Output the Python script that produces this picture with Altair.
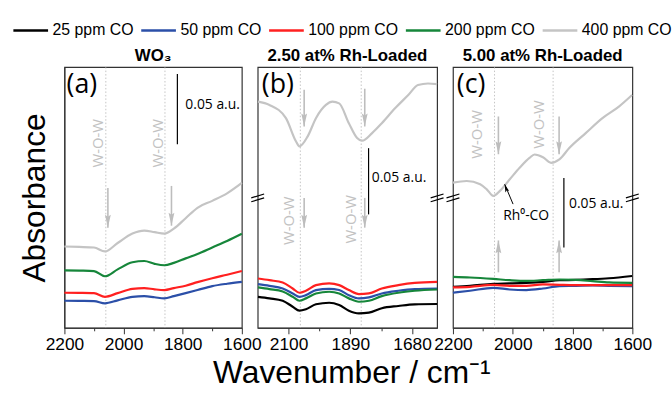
import altair as alt
import pandas as pd

CONC = ["25 ppm CO", "50 ppm CO", "100 ppm CO", "200 ppm CO", "400 ppm CO"]
COLORS = ["#000000", "#2b4fa8", "#ff2020", "#16863a", "#c4c4c4"]
GRAY = "#bdbdbd"

# ---------------- panel (a) WO3 ----------------
A_WN = [2200, 2150, 2100, 2063, 2020, 1970, 1930, 1895, 1862, 1830, 1790, 1750, 1700, 1650, 1600]
A_50 = [0.0192, 0.0191, 0.0190, 0.0174, 0.0195, 0.0220, 0.0225, 0.0217, 0.0209, 0.0225, 0.0246, 0.0268, 0.0296, 0.0313, 0.0326]
A_100 = [0.0249, 0.0248, 0.0246, 0.0220, 0.0246, 0.0277, 0.0282, 0.0273, 0.0268, 0.0282, 0.0299, 0.0324, 0.0352, 0.0377, 0.0403]
A_200 = [0.0408, 0.0406, 0.0403, 0.0366, 0.0415, 0.0465, 0.0474, 0.0454, 0.0444, 0.0461, 0.0493, 0.0524, 0.0570, 0.0616, 0.0667]
A_400 = [0.0577, 0.0574, 0.0570, 0.0542, 0.0602, 0.0669, 0.0690, 0.0679, 0.0669, 0.0704, 0.0778, 0.0852, 0.0901, 0.0954, 0.1028]

# ---------------- panel (b) 2.50 at% Rh ----------------
B_WN = [2204, 2165, 2120, 2086, 2063, 2041, 2007, 1962, 1928, 1895, 1861, 1827, 1783, 1727, 1671, 1595]
B_25 = [0.0220, 0.0209, 0.0192, 0.0150, 0.0122, 0.0132, 0.0167, 0.0178, 0.0162, 0.0122, 0.0103, 0.0108, 0.0139, 0.0155, 0.0167, 0.0169]
B_50 = [0.0310, 0.0298, 0.0279, 0.0244, 0.0220, 0.0232, 0.0268, 0.0277, 0.0268, 0.0232, 0.0209, 0.0216, 0.0244, 0.0263, 0.0275, 0.0279]
B_100 = [0.0350, 0.0338, 0.0322, 0.0279, 0.0249, 0.0263, 0.0303, 0.0315, 0.0303, 0.0268, 0.0239, 0.0244, 0.0279, 0.0303, 0.0319, 0.0326]
B_200 = [0.0287, 0.0275, 0.0258, 0.0220, 0.0192, 0.0209, 0.0244, 0.0256, 0.0244, 0.0209, 0.0185, 0.0192, 0.0225, 0.0249, 0.0263, 0.0272]
B_400_WN = [2204, 2165, 2109, 2075, 2063, 2035, 2007, 1973, 1951, 1928, 1895, 1867, 1850, 1816, 1783, 1738, 1693, 1660, 1626, 1595]
B_400 = [0.1605, 0.1582, 0.1488, 0.1324, 0.1288, 0.1359, 0.1488, 0.1582, 0.1605, 0.1593, 0.1452, 0.1347, 0.1328, 0.1382, 0.1452, 0.1558, 0.1652, 0.1723, 0.1734, 0.1730]

# ---------------- panel (c) 5.00 at% Rh ----------------
C_WN = [2200, 2143, 2065, 2010, 1955, 1899, 1844, 1789, 1733, 1678, 1601]
C_25 = [0.0291, 0.0298, 0.0312, 0.0315, 0.0319, 0.0326, 0.0338, 0.0340, 0.0345, 0.0352, 0.0368]
C_50 = [0.0249, 0.0263, 0.0284, 0.0272, 0.0268, 0.0279, 0.0296, 0.0298, 0.0301, 0.0298, 0.0296]
C_100 = [0.0287, 0.0291, 0.0305, 0.0298, 0.0298, 0.0308, 0.0305, 0.0303, 0.0303, 0.0303, 0.0303]
C_200 = [0.0361, 0.0357, 0.0347, 0.0338, 0.0333, 0.0338, 0.0343, 0.0340, 0.0331, 0.0322, 0.0319]
C_400_WN = [2200, 2154, 2109, 2087, 2065, 2043, 2010, 1977, 1944, 1927, 1899, 1872, 1844, 1811, 1756, 1700, 1645, 1601]
C_400 = [0.1030, 0.1042, 0.1019, 0.0983, 0.0936, 0.0972, 0.1054, 0.1136, 0.1206, 0.1230, 0.1211, 0.1171, 0.1195, 0.1276, 0.1382, 0.1488, 0.1570, 0.1652]

# ---------------- annotations ----------------
TITLES = ["WO₃", "2.50 at% Rh-Loaded", "5.00 at% Rh-Loaded"]
X_TITLE = "Wavenumber / cm⁻¹"
PANEL_LABELS = ["(a)", "(b)", "(c)"]
PANEL_LABEL_X = [2193, 2191, 2187]
PANEL_LABEL_Y = 0.1725

A_REF = [2060, 1860]
B_REF = [2060, 1853]
C_REF = [2061, 1865]

A_ARROW_X = [2053, 1838]
A_ARROW_TOP = [0.0993, 0.1007]
A_ARROW_TIP = [0.0711, 0.0725]
B_ARROW_X = [2047, 1841, 2047, 1841]
B_ARROW_TOP = [0.1690, 0.1697, 0.0922, 0.0922]
B_ARROW_TIP = [0.1429, 0.1429, 0.0711, 0.0711]
C_DOWN_X = [2048, 1845]
C_DOWN_TOP = [0.1500, 0.1500]
C_DOWN_TIP = [0.1232, 0.1232]
C_UP_X = [2048, 1845]
C_UP_BOTTOM = [0.0394, 0.0394]
C_UP_TIP = [0.0620, 0.0620]

WOW_A_X, WOW_A_Y = [2086, 1885], [0.131, 0.131]
WOW_B_X, WOW_B_Y = [2100, 1888], [0.076, 0.077]
WOW_C_X, WOW_C_Y = [2120, 1912], [0.1373, 0.1443]

BAR_X = [1818, 1828, 1829]
BAR_LO = [0.1302, 0.0805, 0.0570]
BAR_HI = [0.1802, 0.1275, 0.1063]
BAR_TEXT_X = [1791, 1817, 1812]
BAR_TEXT_Y = [0.1584, 0.1063, 0.0880]

BREAK_B_X = [2205, 1595]
BREAK_C_X = [2200, 1600]
BREAK_Y = 0.0922

RH_ARROW = {"x1": 1999, "y1": 0.0878, "x2": 2027, "y2": 0.1019}
RH_TEXT = {"x": 1955, "y": 0.0796, "text": "Rh⁰-CO"}

DOWN_HEAD = "M0,0L-0.45,-2L0,-1.7L0.45,-2Z"
UP_HEAD = "M0,0L-0.45,2L0,1.7L0.45,2Z"
BREAK_SHAPE = "M-1,0L1,-0.6M-1,0.6L1,0"

YS = alt.Scale(domain=[0, 0.185], nice=False, zero=False)

legend = alt.Legend(
    orient="none", legendX=-53, legendY=-56, direction="horizontal", columns=5,
    symbolType="stroke", symbolSize=1225, symbolStrokeWidth=2.5,
    labelFontSize=16, labelOffset=3, columnPadding=2, title=None, padding=0,
    labelFont="Liberation Sans", labelColor="#000", rowPadding=0,
)


def long_df(parts):
    rows = []
    for conc, wns, vals in parts:
        for w, v in zip(wns, vals):
            rows.append({"wn": w, "A": v, "conc": conc})
    return pd.DataFrame(rows)


def x_axis(vals, mod):
    return alt.Axis(
        values=vals, format="d",
        labelExpr=f"datum.value % {mod} === 0 ? datum.label : ''",
        tickSize={"condition": {"test": f"datum.value % {mod} === 0", "value": 6}, "value": 3},
        grid=False, labelFlush=False, labelOverlap=False, title=None,
    )


def panel(idx, xdom, xax, yax, lines, refs, arrows, wow, breaks, extra=None):
    xs = alt.Scale(domain=xdom, nice=False, zero=False)

    def X(f):
        return alt.X(f"{f}:Q", scale=xs, axis=xax)

    def Y(f):
        return alt.Y(f"{f}:Q", scale=YS, axis=yax)

    layers = []
    layers.append(
        alt.Chart(pd.DataFrame({"wn": refs})).mark_rule(
            color="#b5b5b5", strokeDash=[1.5, 2], strokeWidth=0.8
        ).encode(x=X("wn"))
    )
    layers.append(
        alt.Chart(lines).mark_line(strokeWidth=2.2, interpolate="monotone").encode(
            x=X("wn"), y=Y("A"),
            color=alt.Color("conc:N", scale=alt.Scale(domain=CONC, range=COLORS), legend=legend),
        )
    )
    for xs_, top, tip, shape in arrows:
        d = pd.DataFrame({"x": xs_, "a": top, "b": tip})
        layers.append(alt.Chart(d).mark_rule(color=GRAY, strokeWidth=1.6).encode(
            x=X("x"), y=Y("a"), y2="b:Q"))
        layers.append(alt.Chart(d).mark_point(shape=shape, filled=True, size=169, color=GRAY, opacity=1).encode(
            x=X("x"), y=Y("b")))
    wx, wy = wow
    layers.append(
        alt.Chart(pd.DataFrame({"x": wx, "y": wy, "t": ["W-O-W"] * len(wx)})).mark_text(
            angle=270, font="Open Sans", fontSize=15, color="#c2c2c2"
        ).encode(x=X("x"), y=Y("y"), text="t:N")
    )
    bar = pd.DataFrame({"x": [BAR_X[idx]], "lo": [BAR_LO[idx]], "hi": [BAR_HI[idx]],
                        "tx": [BAR_TEXT_X[idx]], "ty": [BAR_TEXT_Y[idx]], "t": ["0.05 a.u."]})
    layers.append(alt.Chart(bar).mark_rule(color="#000", strokeWidth=1.2).encode(
        x=X("x"), y=Y("lo"), y2="hi:Q"))
    layers.append(alt.Chart(bar).mark_text(align="left", baseline="middle", font="Open Sans", fontSize=14,
                                           color="#000").encode(x=X("tx"), y=Y("ty"), text="t:N"))
    lab = pd.DataFrame({"x": [PANEL_LABEL_X[idx]], "y": [PANEL_LABEL_Y], "t": [PANEL_LABELS[idx]]})
    layers.append(alt.Chart(lab).mark_text(align="left", baseline="middle", font="Open Sans", fontSize=27,
                                           color="#000").encode(x=X("x"), y=Y("y"), text="t:N"))
    if breaks:
        bd = pd.DataFrame({"x": breaks, "y": [BREAK_Y] * len(breaks)})
        layers.append(alt.Chart(bd).mark_point(shape=BREAK_SHAPE, filled=False, size=169, color="#000",
                                               strokeWidth=1.2, opacity=1).encode(x=X("x"), y=Y("y")))
    if extra:
        ad = pd.DataFrame([extra[0]])
        layers.append(alt.Chart(ad).mark_rule(color="#000", strokeWidth=1).encode(
            x=X("x1"), y=Y("y1"), x2="x2:Q", y2="y2:Q"))
        layers.append(alt.Chart(ad).mark_point(shape="M0,0L-0.5,2L0,1.6L0.5,2Z", filled=True, size=64,
                                               color="#000", opacity=1, angle=341).encode(x=X("x2"), y=Y("y2")))
        td = pd.DataFrame([extra[1]])
        layers.append(alt.Chart(td).mark_text(font="Open Sans", fontSize=14, color="#000", baseline="middle").encode(
            x=X("x"), y=Y("y"), text="text:N"))
    return alt.layer(*layers)


axis_a = x_axis([2200, 2100, 2000, 1900, 1800, 1700, 1600], 200)
axis_b = x_axis([2100, 1995, 1890, 1785, 1680], 210)
axis_c = x_axis([2200, 2100, 2000, 1900, 1800, 1700, 1600], 200)
yaxis_a = alt.Axis(title="Absorbance", labels=False, ticks=False, grid=False, titleFontSize=32,
                   titleFontWeight="normal", titlePadding=13)

pa = panel(
    0, [2200, 1600], axis_a, yaxis_a,
    long_df([("50 ppm CO", A_WN, A_50), ("100 ppm CO", A_WN, A_100),
             ("200 ppm CO", A_WN, A_200), ("400 ppm CO", A_WN, A_400)]),
    A_REF, [(A_ARROW_X, A_ARROW_TOP, A_ARROW_TIP, DOWN_HEAD)], (WOW_A_X, WOW_A_Y), None,
).properties(width=179, height=263, title=alt.Title(TITLES[0]))

pb = panel(
    1, [2205, 1595], axis_b, None,
    long_df([("25 ppm CO", B_WN, B_25), ("50 ppm CO", B_WN, B_50), ("200 ppm CO", B_WN, B_200),
             ("100 ppm CO", B_WN, B_100), ("400 ppm CO", B_400_WN, B_400)]),
    B_REF, [(B_ARROW_X, B_ARROW_TOP, B_ARROW_TIP, DOWN_HEAD)], (WOW_B_X, WOW_B_Y), BREAK_B_X,
).properties(width=181, height=263, title=alt.Title(TITLES[1]))

pc = panel(
    2, [2200, 1600], axis_c, None,
    long_df([("25 ppm CO", C_WN, C_25), ("50 ppm CO", C_WN, C_50), ("100 ppm CO", C_WN, C_100),
             ("200 ppm CO", C_WN, C_200), ("400 ppm CO", C_400_WN, C_400)]),
    C_REF, [(C_DOWN_X, C_DOWN_TOP, C_DOWN_TIP, DOWN_HEAD), (C_UP_X, C_UP_BOTTOM, C_UP_TIP, UP_HEAD)],
    (WOW_C_X, WOW_C_Y), BREAK_C_X, extra=(RH_ARROW, RH_TEXT),
).properties(width=181, height=263, title=alt.Title(TITLES[2]))

chart = (
    alt.hconcat(pa, pb, pc, spacing=16, bounds="flush")
    .resolve_scale(x="independent", y="independent", color="shared")
    .properties(
        padding={"left": 12, "top": 10, "right": 0, "bottom": 0},
        title=alt.Title(X_TITLE, orient="bottom", anchor="middle", frame="bounds", fontSize=32,
                        fontWeight="normal", offset=5, dx=10),
    )
    .configure(font="Liberation Sans")
    .configure_view(stroke="#333", strokeWidth=1.2)
    .configure_axis(domainColor="#333", tickColor="#333", labelFontSize=17.5, labelColor="#000",
                    labelPadding=2, titleColor="#000", labelFont="Liberation Sans", titleFont="Liberation Sans")
    .configure_title(fontSize=17, font="Liberation Sans", fontWeight="bold", color="#000", offset=2)
)

chart.save("out.html", embed_options={"renderer": "svg", "actions": False})
